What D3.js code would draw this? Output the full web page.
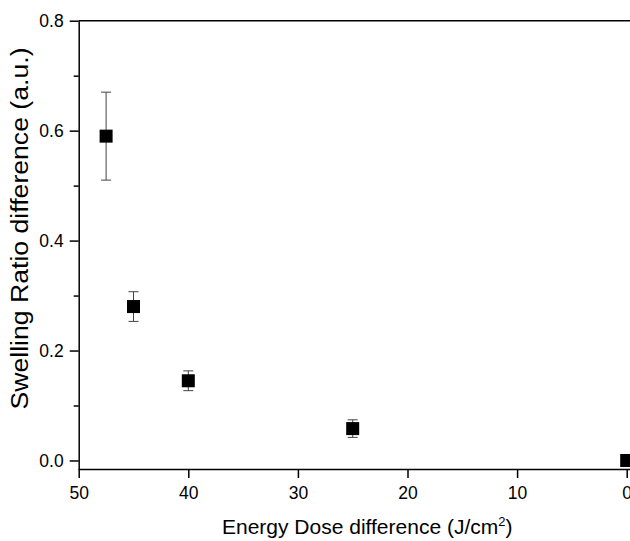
<!DOCTYPE html>
<html>
<head>
<meta charset="utf-8">
<script src="https://cdn.jsdelivr.net/npm/d3@7"></script>
<style>
  body { margin: 0; background: #fff; }
  svg { display: block; font-family: "Liberation Sans", Arial, sans-serif; }
  .axis path, .axis line { stroke: #000; stroke-width: 1.5; }
  .axis text { font-size: 17.5px; fill: #000; }
</style>
</head>
<body>
<div id="chart"></div>
<script>
// energy dose difference (J/cm2) and swelling ratio difference
const doses = [47.5, 45, 40, 25, 0];
const ratios = [0.59, 0.28, 0.145, 0.058, 0.0];
const errors = [0.08, 0.027, 0.018, 0.016, 0];
const xTicks = [50, 40, 30, 20, 10, 0];
const yTicks = [0, 0.2, 0.4, 0.6, 0.8];
const yMinorTicks = [0.1, 0.3, 0.5, 0.7];

const width = 630, height = 541;
const margin = { top: 20.7, right: 3.3, bottom: 72, left: 78.7 };

const svg = d3.select("#chart").append("svg")
    .attr("width", width)
    .attr("height", height);

const x = d3.scaleLinear()
    .domain([50, 0])
    .range([margin.left, width - margin.right]);

const y = d3.scaleLinear()
    .domain([-0.0155, 0.8])
    .range([height - margin.bottom, margin.top]);

// top border
svg.append("line")
    .attr("x1", margin.left).attr("x2", width)
    .attr("y1", y(0.8)).attr("y2", y(0.8))
    .attr("stroke", "#000").attr("stroke-width", 1.5);

// y minor ticks
svg.append("g")
    .attr("class", "axis")
    .attr("transform", `translate(${margin.left},0)`)
    .call(d3.axisLeft(y).tickValues(yMinorTicks).tickSize(5).tickFormat(""))
    .call(g => g.select(".domain").remove());

svg.append("g")
    .attr("class", "axis")
    .attr("transform", `translate(${margin.left},0)`)
    .call(d3.axisLeft(y).tickValues(yTicks).tickSize(9).tickPadding(6).tickFormat(d3.format(".1f"))
        .tickSizeOuter(0));

svg.append("g")
    .attr("class", "axis")
    .attr("transform", `translate(0,${height - margin.bottom})`)
    .call(d3.axisBottom(x).tickValues(xTicks).tickSize(9).tickPadding(9).tickFormat(d3.format("d"))
        .tickSizeOuter(0))
    .call(g => g.select(".domain").attr("d", `M${margin.left},0.5H${width}`));

// axis titles
svg.append("text")
    .attr("x", 222)
    .attr("y", 533.5)
    .style("font-size", "21px")
    .html("Energy Dose difference (J/cm<tspan dy='-8' font-size='13px'>2</tspan><tspan dy='8'>)</tspan>");

svg.append("text")
    .attr("transform", "translate(28,228.5) rotate(-90)")
    .attr("text-anchor", "middle")
    .attr("textLength", 362)
    .attr("lengthAdjust", "spacingAndGlyphs")
    .style("font-size", "23px")
    .text("Swelling Ratio difference (a.u.)");

const points = doses.map((d, i) => ({ dose: d, ratio: ratios[i], err: errors[i] }));

const bars = svg.append("g")
    .attr("stroke", "#444")
    .attr("stroke-width", 1);

bars.selectAll(".stem")
    .data(points.filter(d => d.err > 0))
    .enter()
    .append("line")
    .attr("x1", d => x(d.dose)).attr("x2", d => x(d.dose))
    .attr("y1", d => y(d.ratio - d.err)).attr("y2", d => y(d.ratio + d.err));

bars.selectAll(".cap")
    .data(points.filter(d => d.err > 0).flatMap(d => [
        { dose: d.dose, v: d.ratio - d.err },
        { dose: d.dose, v: d.ratio + d.err }
    ]))
    .enter()
    .append("line")
    .attr("x1", d => x(d.dose) - 5).attr("x2", d => x(d.dose) + 5)
    .attr("y1", d => y(d.v)).attr("y2", d => y(d.v));

const s = 13;
svg.append("g")
    .selectAll("rect")
    .data(points)
    .enter()
    .append("rect")
    .attr("x", d => x(d.dose) - s / 2)
    .attr("y", d => y(d.ratio) - s / 2)
    .attr("width", s)
    .attr("height", s)
    .attr("fill", "#000");
</script>
</body>
</html>
